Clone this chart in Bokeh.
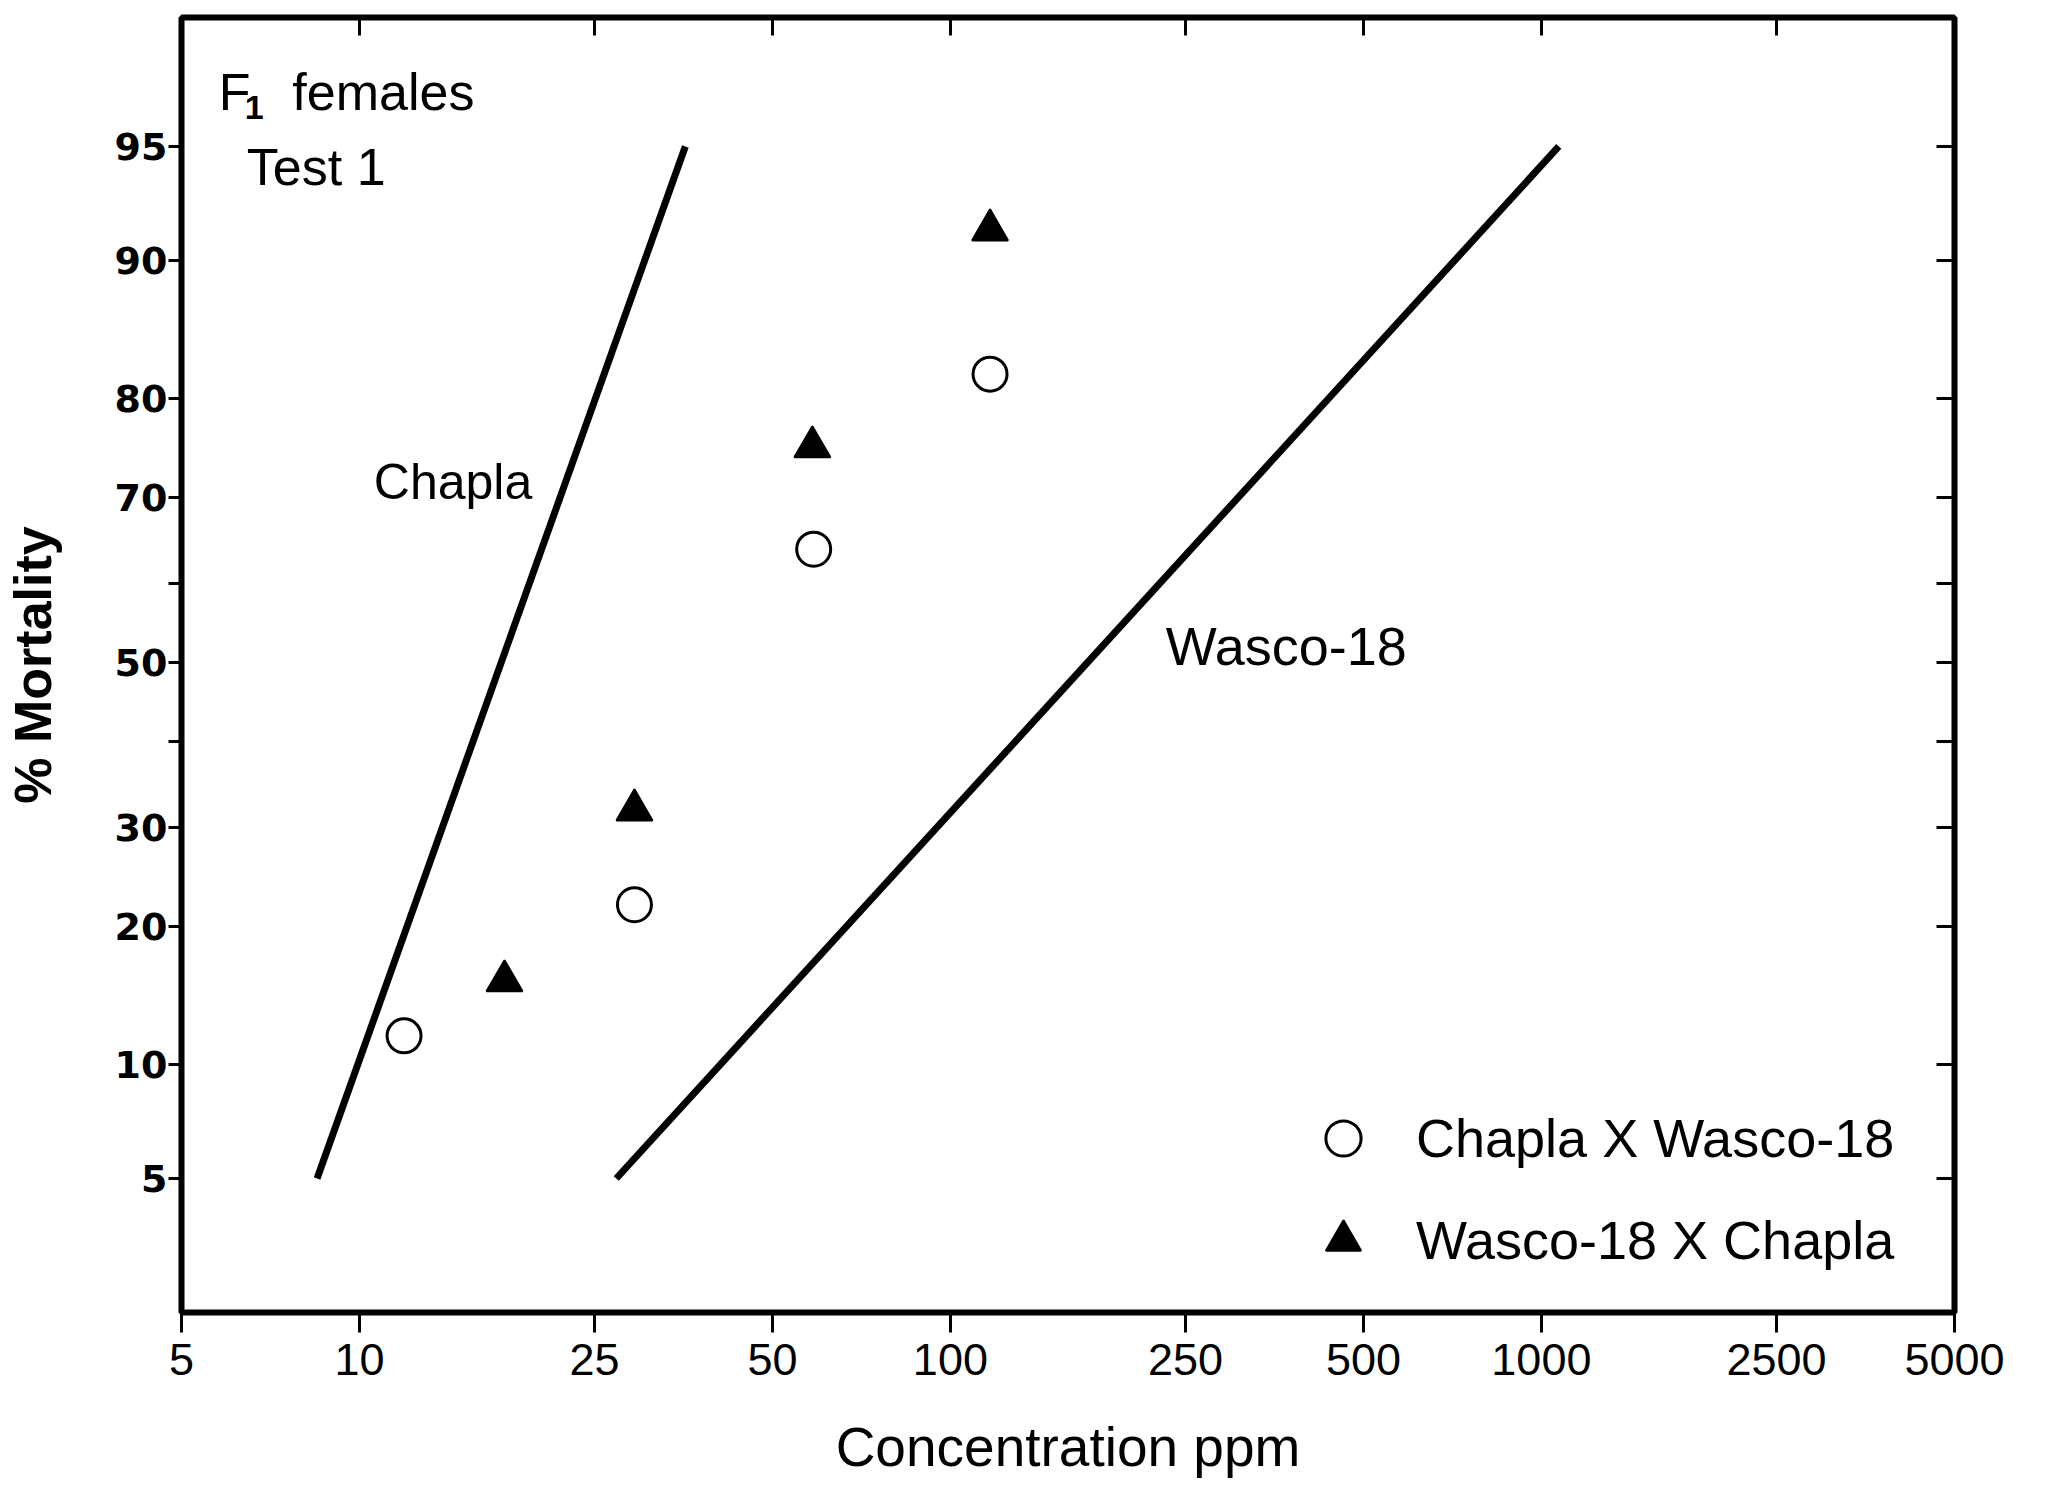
from statistics import NormalDist
from bokeh.plotting import figure
from bokeh.models import (Range1d, FixedTicker, LogAxis, LinearAxis, Label, Legend,
                          LegendItem, CustomJSTickFormatter)
from bokeh.embed import file_html
from bokeh.resources import INLINE

# ---------------- data ----------------
x_ticks = [5, 10, 25, 50, 100, 250, 500, 1000, 2500, 5000]
x_tick_labels = ["5", "10", "25", "50", "100", "250", "500", "1000", "2500", "5000"]
y_ticks_pct = [5, 10, 20, 30, 40, 50, 60, 70, 80, 90, 95]
y_tick_labels = ["5", "10", "20", "30", "", "50", "", "70", "80", "90", "95"]

chapla_line_conc = [8.48, 35.6]
chapla_line_pct = [5, 95]
wasco_line_conc = [27.2, 1070]
wasco_line_pct = [5, 95]

cxw_conc = [11.9, 29.2, 58.7, 116.7]      # Chapla X Wasco-18 (open circles)
cxw_pct = [11.7, 22.0, 64.1, 82.1]
wxc_conc = [17.6, 29.2, 58.4, 116.7]      # Wasco-18 X Chapla (filled triangles)
wxc_pct = [15.5, 31.9, 75.4, 91.6]

ND = NormalDist()


def probit(pcts):
    return [ND.inv_cdf(v / 100.0) for v in pcts]


FONT = "Liberation Sans"

p = figure(x_axis_type="log", x_range=Range1d(5, 5000), y_range=Range1d(-2.072, 2.056),
           frame_width=1773, frame_height=1295, output_backend="svg", toolbar_location=None,
           min_border_left=175, min_border_top=17, min_border_right=50, min_border_bottom=0)
p.xgrid.visible = False
p.ygrid.visible = False
p.outline_line_color = "black"
p.outline_line_width = 6
p.outline_line_alpha = 1.0
p.background_fill_color = "white"
p.border_fill_color = "white"

fmt_code = """
let best = 0, bd = 1e12;
for (let i = 0; i < vals.length; i++) {
  const d = Math.abs(vals[i] - tick);
  if (d < bd) { bd = d; best = i; }
}
return labels[best];
"""

# bottom axis
xa = p.xaxis[0]
xa.ticker = FixedTicker(ticks=x_ticks, minor_ticks=[])
xa.formatter = CustomJSTickFormatter(args=dict(vals=x_ticks, labels=x_tick_labels), code=fmt_code)
xa.axis_line_color = None
xa.major_tick_in = 0
xa.major_tick_out = 20
xa.major_tick_line_width = 3
xa.major_label_standoff = 11
xa.major_label_text_font = FONT
xa.major_label_text_font_size = "45px"
xa.major_label_text_color = "black"
xa.axis_label = "Concentration ppm"
xa.axis_label_text_font = FONT
xa.axis_label_text_font_size = "55px"
xa.axis_label_text_font_style = "normal"
xa.axis_label_text_color = "black"
xa.axis_label_standoff = 38

# left axis
ya = p.yaxis[0]
y_tick_vals = probit(y_ticks_pct)
ya.ticker = FixedTicker(ticks=y_tick_vals, minor_ticks=[])
ya.formatter = CustomJSTickFormatter(args=dict(vals=y_tick_vals, labels=y_tick_labels), code=fmt_code)
ya.axis_line_color = None
ya.major_tick_in = 0
ya.major_tick_out = 13
ya.major_tick_line_width = 3
ya.major_label_standoff = 1
ya.major_label_text_font = "DejaVu Sans"
ya.major_label_text_font_style = "bold"
ya.major_label_text_font_size = "38px"
ya.major_label_text_color = "black"
ya.axis_label = "% Mortality"
ya.axis_label_text_font = FONT
ya.axis_label_text_font_size = "52px"
ya.axis_label_text_font_style = "bold"
ya.axis_label_text_color = "black"
ya.axis_label_standoff = 50

empty_fmt = CustomJSTickFormatter(code="return '';")

top = LogAxis(ticker=FixedTicker(ticks=x_ticks[1:-1], minor_ticks=[]), formatter=empty_fmt,
              axis_line_color=None, major_tick_in=18, major_tick_out=0, major_tick_line_width=3,
              major_label_standoff=0, major_label_text_font_size="1px")
p.add_layout(top, "above")

right = LinearAxis(ticker=FixedTicker(ticks=y_tick_vals, minor_ticks=[]), formatter=empty_fmt,
                   axis_line_color=None, major_tick_in=18, major_tick_out=0, major_tick_line_width=3,
                   major_label_standoff=0, major_label_text_font_size="1px")
p.add_layout(right, "right")

# regression lines
p.line(chapla_line_conc, probit(chapla_line_pct), line_color="black", line_width=7)
p.line(wasco_line_conc, probit(wasco_line_pct), line_color="black", line_width=7)

# points
r_c = p.scatter(cxw_conc, probit(cxw_pct), marker="circle", size=34,
                fill_color="white", line_color="black", line_width=3)
r_t = p.scatter(wxc_conc, probit(wxc_pct), marker="triangle", size=36,
                fill_color="black", line_color="black", line_width=2)

legend = Legend(items=[LegendItem(label="Chapla X Wasco-18", renderers=[r_c]),
                       LegendItem(label="Wasco-18 X Chapla", renderers=[r_t])],
                location=(1118, 28), glyph_width=88, glyph_height=88, spacing=14,
                padding=0, margin=0, label_standoff=29,
                label_text_font=FONT, label_text_font_size="54px", label_text_color="black",
                border_line_color=None, background_fill_alpha=0)
p.add_layout(legend)

# annotations
p.add_layout(Label(x=14.4, y=ND.inv_cdf(0.717), text="Chapla", text_align="center",
                   text_baseline="middle", text_font=FONT, text_font_size="50px",
                   text_color="black"))
p.add_layout(Label(x=370, y=ND.inv_cdf(0.521), text="Wasco-18", text_align="center",
                   text_baseline="middle", text_font=FONT, text_font_size="54px",
                   text_color="black"))
p.add_layout(Label(x=5.78, y=ND.inv_cdf(0.9655), text="F", text_align="left",
                   text_baseline="alphabetic", text_font=FONT, text_font_size="52px",
                   text_color="black"))
p.add_layout(Label(x=6.40, y=ND.inv_cdf(0.9616), text="1", text_align="left",
                   text_baseline="alphabetic", text_font=FONT, text_font_size="34px",
                   text_font_style="bold", text_color="black"))
p.add_layout(Label(x=7.70, y=ND.inv_cdf(0.9655), text="females", text_align="left",
                   text_baseline="alphabetic", text_font=FONT, text_font_size="52px",
                   text_color="black"))
p.add_layout(Label(x=6.45, y=ND.inv_cdf(0.9430), text="Test 1", text_align="left",
                   text_baseline="alphabetic", text_font=FONT, text_font_size="52px",
                   text_color="black"))

open("out.html", "w").write(file_html(p, INLINE))
